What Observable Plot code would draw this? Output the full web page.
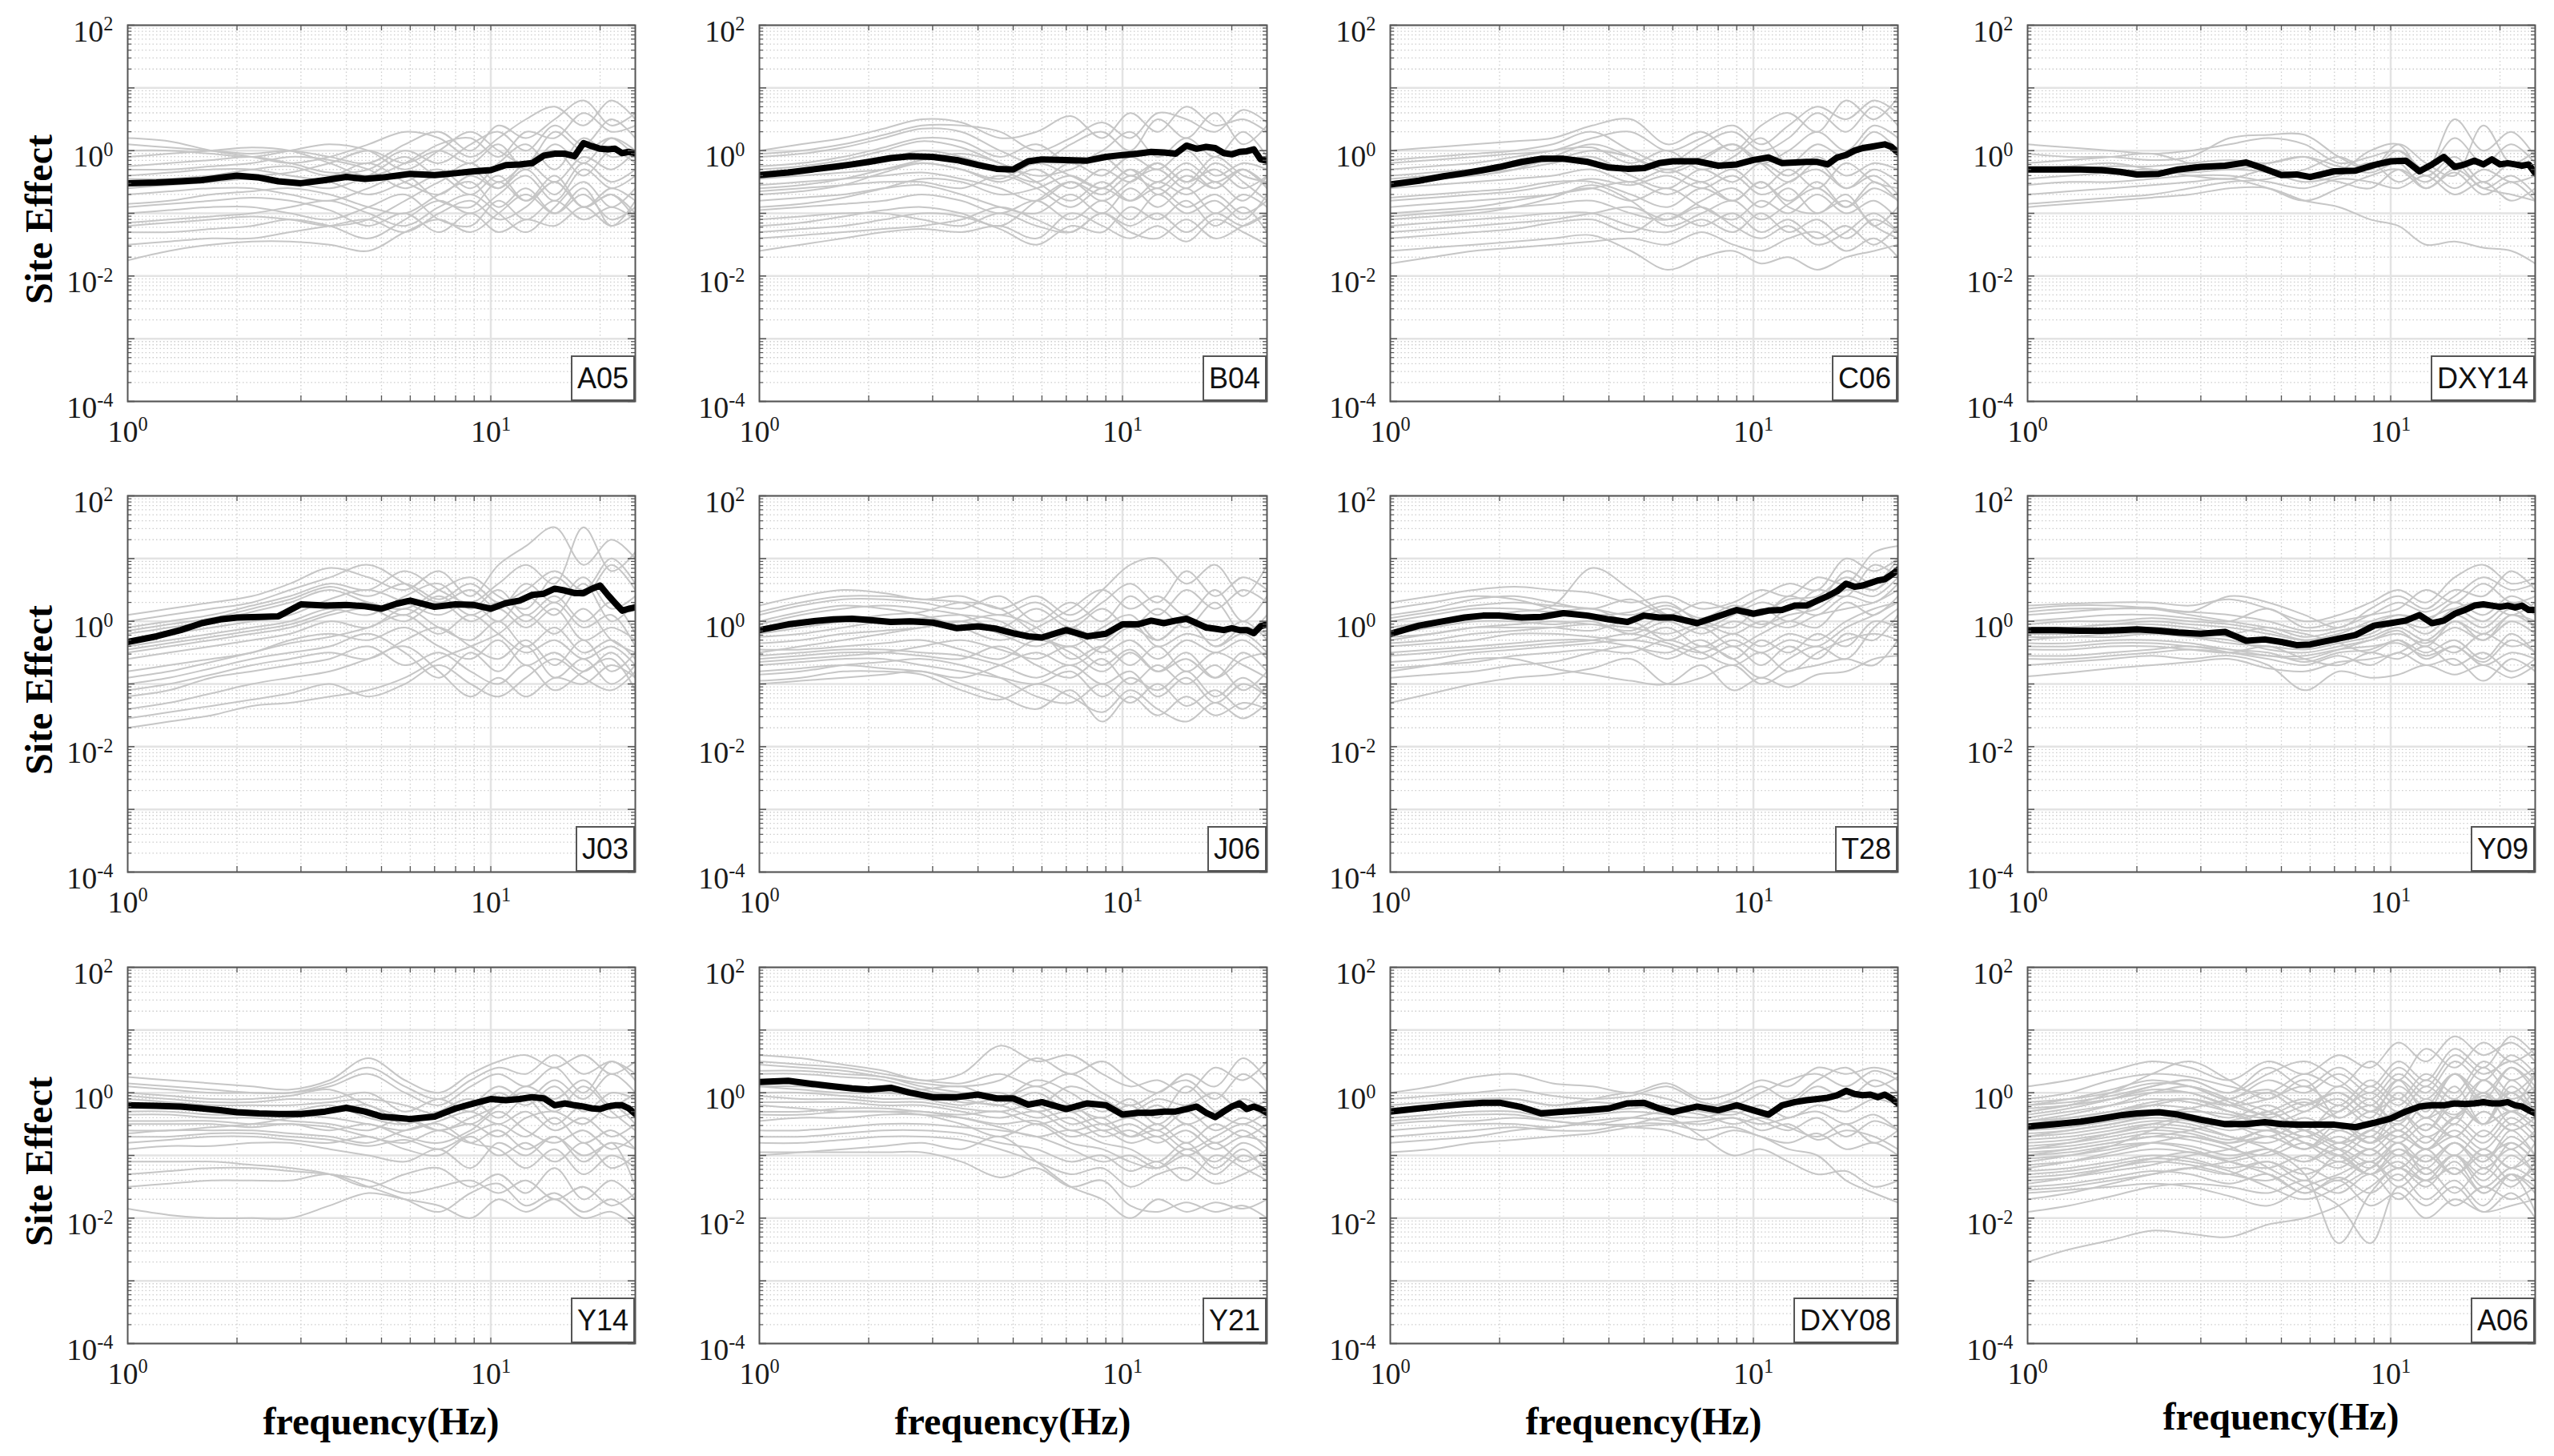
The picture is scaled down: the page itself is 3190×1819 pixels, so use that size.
<!DOCTYPE html>
<html><head><meta charset="utf-8">
<script src="https://cdn.jsdelivr.net/npm/d3@7"></script>
<script src="https://cdn.jsdelivr.net/npm/@observablehq/plot@0.6"></script>
<style>
html,body{margin:0;padding:0;background:#fff;}
#page{position:relative;width:3190px;height:1819px;overflow:hidden;background:#fff;}
.panel{position:absolute;}
.tag{position:absolute;box-sizing:border-box;height:57px;border:2px solid #555;background:#fff;font-family:"Liberation Sans",Arial,sans-serif;font-size:36px;line-height:53px;padding:0 6px;color:#111;}
.ylab{position:absolute;font-family:"Liberation Serif","Times New Roman",serif;font-weight:bold;font-size:48px;line-height:1;white-space:nowrap;transform:translate(-50%,-50%) rotate(-90deg);color:#000;}
.xlab{position:absolute;font-family:"Liberation Serif","Times New Roman",serif;font-weight:bold;font-size:48px;line-height:1;white-space:nowrap;transform:translate(-50%,-50%);color:#000;}
</style></head><body><div id="page"></div><script>
// ---------------- data (amplitudes stored as log10 values) ----------------
const freqGrid = [1,1.3,1.7,2.2,2.8,3.6,4.6,5.8,7.2,8.8,10.5,12.5,15,18,21.5,25];
const meanFreq = [1,1.2,1.4,1.6,1.8,2,2.3,2.6,3,3.5,4,4.5,5,5.5,6,7,8,9,10,11,12,13,14,15,16,17,18,19,20,21,22,23,24,25];
const stations = ["A05","B04","C06","DXY14","J03","J06","T28","Y09","Y14","Y21","DXY08","A06"];
const yTickLabels = [1e-4,1e-2,1,1e2];
const xTickLabels = [1,10];
const yLabel = "Site Effect";
const xLabel = "frequency(Hz)";

const A05_mean = [-0.52,-0.51,-0.49,-0.47,-0.43,-0.40,-0.43,-0.49,-0.52,-0.47,-0.42,-0.45,-0.43,-0.40,-0.37,-0.39,-0.36,-0.33,-0.31,-0.23,-0.22,-0.20,-0.08,-0.05,-0.05,-0.09,0.12,0.07,0.03,0.02,0.03,-0.04,-0.02,-0.04];
const A05_records = [
[0.2,0.15,0.0,-0.1,-0.2,-0.1,0.1,0.3,0.2,-0.1,0.2,0.5,0.7,0.4,0.8,0.5],
[-0.1,-0.05,0.0,0.05,0.0,-0.2,-0.4,-0.2,0.1,0.2,-0.1,0.3,0.2,0.6,0.3,0.4],
[-0.25,-0.2,-0.15,-0.1,-0.2,-0.35,-0.3,0.0,-0.2,0.1,0.3,0.0,0.4,0.1,0.5,0.2],
[-0.4,-0.35,-0.3,-0.3,-0.4,-0.5,-0.7,-0.5,-0.3,-0.6,-0.2,0.1,-0.3,0.2,-0.1,0.0],
[-0.55,-0.5,-0.4,-0.3,-0.25,-0.4,-0.2,-0.5,-0.7,-0.4,-0.6,-0.3,-0.7,-0.2,-0.5,-0.3],
[-0.7,-0.65,-0.6,-0.6,-0.7,-0.8,-0.6,-0.4,-0.8,-0.9,-0.5,-0.8,-0.4,-0.9,-0.6,-0.8],
[-0.85,-0.8,-0.7,-0.65,-0.6,-0.7,-0.9,-1.0,-0.7,-0.5,-0.9,-0.6,-1.0,-0.7,-1.1,-0.9],
[-1.0,-0.95,-0.9,-0.9,-1.0,-1.1,-0.9,-0.7,-1.1,-1.2,-0.8,-1.1,-0.8,-1.1,-0.9,-1.1],
[-1.15,-1.1,-1.05,-1.0,-0.9,-0.8,-1.0,-1.2,-0.9,-0.7,-1.0,-1.3,-0.9,-0.5,-0.9,-0.6],
[-1.3,-1.3,-1.25,-1.2,-1.1,-1.2,-1.4,-1.1,-0.8,-1.0,-0.7,-0.4,-0.8,-0.3,-0.6,-0.4],
[-1.5,-1.45,-1.4,-1.4,-1.3,-1.2,-1.1,-1.3,-1.0,-0.8,-1.1,-0.9,-0.5,-0.9,-0.7,-1.0],
[-1.75,-1.6,-1.5,-1.45,-1.45,-1.5,-1.6,-1.3,-1.1,-1.3,-1.0,-0.7,-1.0,-0.6,-1.2,-0.8],
[0.0,0.0,-0.05,-0.1,0.0,0.1,0.0,-0.3,0.0,0.3,0.0,-0.2,0.3,0.0,0.2,-0.1],
[-0.6,-0.55,-0.5,-0.45,-0.5,-0.6,-0.4,-0.1,-0.4,-0.2,-0.5,-0.2,0.0,-0.4,0.0,-0.2],
[0.1,0.05,0.0,-0.05,0.0,-0.1,-0.2,0.1,0.3,0.0,0.4,0.2,0.5,0.8,0.4,0.6],
[-0.3,-0.3,-0.25,-0.2,-0.1,-0.15,-0.3,-0.6,-0.4,-0.7,-0.4,-0.8,-0.5,-0.9,-0.7,-1.1],
[-0.9,-0.85,-0.8,-0.75,-0.8,-0.95,-1.2,-1.0,-1.3,-1.0,-1.3,-1.1,-1.2,-0.9,-1.2,-1.0],
[-1.2,-1.15,-1.1,-1.05,-1.1,-1.2,-1.1,-0.8,-0.5,-0.3,-0.6,-0.2,-0.5,-0.1,-0.3,0.0],
[-0.45,-0.45,-0.4,-0.4,-0.35,-0.2,0.0,-0.2,0.0,-0.2,0.1,-0.3,0.1,-0.2,0.2,0.0]];

const B04_mean = [-0.39,-0.35,-0.30,-0.26,-0.22,-0.18,-0.12,-0.09,-0.10,-0.15,-0.23,-0.29,-0.30,-0.17,-0.14,-0.15,-0.16,-0.10,-0.07,-0.05,-0.02,-0.03,-0.05,0.08,0.03,0.06,0.04,-0.04,-0.06,-0.02,-0.01,0.02,-0.14,-0.16];
const B04_records = [
[0.0,0.1,0.2,0.35,0.5,0.45,0.2,0.3,0.55,0.2,0.6,0.3,0.7,0.4,0.5,0.3],
[-0.1,-0.05,0.05,0.2,0.35,0.3,0.0,-0.2,0.1,0.3,0.0,0.5,0.2,0.6,0.1,0.4],
[-0.25,-0.2,-0.1,0.05,0.2,0.15,-0.1,0.1,-0.2,0.0,0.3,-0.1,0.2,-0.1,0.3,-0.1],
[-0.35,-0.3,-0.25,-0.15,0.0,-0.1,-0.3,-0.5,-0.2,-0.4,-0.1,-0.3,0.0,-0.4,-0.2,-0.3],
[-0.45,-0.4,-0.35,-0.3,-0.2,-0.3,-0.5,-0.3,-0.6,-0.3,-0.5,-0.2,-0.5,-0.1,-0.4,-0.5],
[-0.55,-0.5,-0.45,-0.4,-0.35,-0.45,-0.6,-0.8,-0.5,-0.7,-0.4,-0.6,-0.3,-0.6,-0.3,-0.6],
[-0.65,-0.6,-0.55,-0.5,-0.5,-0.6,-0.4,-0.6,-0.9,-0.6,-0.8,-0.5,-0.7,-0.5,-0.8,-0.4],
[-0.8,-0.75,-0.7,-0.6,-0.55,-0.7,-0.9,-1.0,-0.7,-1.0,-0.6,-0.9,-0.6,-1.0,-0.7,-0.9],
[-0.95,-0.9,-0.85,-0.8,-0.7,-0.8,-1.0,-0.8,-1.1,-0.8,-1.1,-0.7,-1.0,-0.8,-1.1,-0.7],
[-1.1,-1.05,-1.0,-1.0,-1.1,-1.2,-1.0,-1.2,-1.3,-1.0,-1.2,-1.0,-1.3,-1.0,-1.2,-1.0],
[-1.3,-1.25,-1.2,-1.1,-1.0,-1.05,-1.25,-1.5,-1.2,-1.3,-0.9,-1.1,-0.8,-1.2,-0.9,-1.3],
[-1.6,-1.5,-1.4,-1.3,-1.25,-1.3,-1.2,-1.4,-1.0,-1.2,-1.4,-1.2,-1.45,-1.1,-1.3,-1.5],
[-0.7,-0.65,-0.55,-0.35,-0.2,-0.3,-0.45,-0.2,-0.4,-0.6,-0.3,-0.7,-0.4,-0.6,-0.3,-0.55],
[-1.2,-1.15,-1.05,-0.95,-0.9,-1.0,-1.2,-0.8,-0.5,-0.8,-0.5,-0.3,-0.6,-0.2,-0.5,-0.8],
[-0.05,0.0,0.1,0.25,0.4,0.4,0.3,0.0,0.2,0.45,0.2,0.6,0.5,0.3,0.65,0.45],
[-0.3,-0.25,-0.15,0.0,0.15,0.05,-0.2,-0.4,-0.3,-0.1,-0.4,-0.2,-0.5,-0.3,-0.6,-0.4],
[-0.9,-0.85,-0.75,-0.6,-0.45,-0.5,-0.7,-0.6,-0.4,-0.6,-0.3,-0.5,-0.2,-0.5,-0.3,-0.6],
[-1.4,-1.35,-1.3,-1.25,-1.2,-1.1,-0.9,-1.1,-1.3,-1.0,-1.3,-1.4,-1.1,-1.4,-1.2,-1.0],
[-0.6,-0.55,-0.45,-0.3,-0.15,-0.05,-0.2,-0.5,-0.8,-0.5,-0.8,-0.6,-0.9,-0.7,-1.0,-0.8]];

const C06_mean = [-0.54,-0.48,-0.41,-0.36,-0.31,-0.26,-0.18,-0.13,-0.13,-0.18,-0.27,-0.29,-0.28,-0.20,-0.17,-0.17,-0.24,-0.22,-0.15,-0.11,-0.20,-0.19,-0.18,-0.18,-0.22,-0.11,-0.07,0.00,0.04,0.06,0.08,0.10,0.06,-0.03];
const C06_records = [
[0.0,0.05,0.1,0.15,0.2,0.4,0.5,0.1,0.3,0.0,0.4,0.6,0.3,0.8,0.5,0.85],
[-0.15,-0.1,-0.05,0.0,0.1,0.3,0.0,-0.2,0.1,0.3,0.0,0.2,0.6,0.3,0.7,0.4],
[-0.3,-0.25,-0.2,-0.1,0.0,0.05,-0.2,0.0,-0.3,-0.1,0.2,-0.2,0.1,-0.1,0.3,0.0],
[-0.45,-0.4,-0.35,-0.3,-0.2,-0.1,-0.4,-0.6,-0.3,-0.5,-0.2,-0.4,-0.1,-0.4,-0.2,-0.3],
[-0.6,-0.55,-0.5,-0.45,-0.4,-0.3,-0.5,-0.3,-0.5,-0.3,-0.6,-0.3,-0.6,-0.2,-0.5,-0.6],
[-0.75,-0.7,-0.65,-0.6,-0.5,-0.5,-0.7,-0.9,-0.6,-0.8,-0.5,-0.8,-0.5,-0.9,-0.6,-0.8],
[-0.9,-0.85,-0.8,-0.75,-0.7,-0.6,-0.8,-0.6,-0.9,-1.1,-0.8,-1.0,-0.7,-1.0,-0.8,-1.1],
[-1.05,-1.0,-0.95,-0.9,-0.85,-0.8,-1.0,-1.1,-0.8,-0.6,-0.9,-0.6,-1.0,-0.7,-1.2,-0.9],
[-1.2,-1.15,-1.1,-1.05,-1.0,-1.0,-1.2,-1.3,-1.1,-1.3,-1.0,-1.3,-1.1,-1.4,-1.1,-1.3],
[-1.4,-1.35,-1.3,-1.25,-1.15,-1.1,-1.3,-1.0,-1.2,-1.0,-1.3,-1.1,-1.4,-1.2,-1.5,-1.2],
[-1.6,-1.55,-1.5,-1.45,-1.4,-1.35,-1.6,-1.9,-1.7,-1.6,-1.8,-1.7,-1.9,-1.7,-1.6,-1.5],
[-1.8,-1.7,-1.6,-1.55,-1.5,-1.45,-1.4,-1.5,-1.3,-1.5,-1.6,-1.4,-1.3,-1.6,-1.4,-1.7],
[-0.5,-0.45,-0.4,-0.3,-0.1,0.1,-0.1,-0.35,-0.15,0.1,-0.2,-0.5,-0.2,-0.6,-0.3,-0.5],
[-1.0,-0.95,-0.9,-0.8,-0.7,-0.6,-0.5,-0.7,-0.5,-0.8,-0.5,-0.9,-1.0,-0.8,-1.2,-1.4],
[-0.2,-0.15,-0.1,-0.05,0.0,0.2,0.3,0.0,0.2,0.4,0.1,0.4,0.7,0.5,0.8,0.6],
[-0.4,-0.35,-0.3,-0.25,-0.15,0.0,-0.1,-0.3,-0.1,0.1,-0.2,0.0,0.3,0.0,0.4,0.2],
[-0.8,-0.75,-0.7,-0.65,-0.55,-0.45,-0.55,-0.4,-0.6,-0.4,-0.7,-0.5,-0.3,-0.6,-0.4,-0.7],
[-1.3,-1.25,-1.2,-1.15,-1.1,-1.0,-0.9,-1.1,-0.9,-1.2,-1.4,-1.2,-1.5,-1.3,-1.0,-1.3],
[-1.1,-1.05,-1.0,-0.9,-0.75,-0.55,-0.8,-1.2,-1.0,-0.8,-1.1,-0.85,-0.6,-0.9,-0.5,-0.8]];

const DXY14_mean = [-0.30,-0.30,-0.30,-0.31,-0.34,-0.38,-0.37,-0.30,-0.26,-0.24,-0.19,-0.29,-0.39,-0.38,-0.42,-0.33,-0.32,-0.23,-0.17,-0.16,-0.33,-0.22,-0.10,-0.26,-0.22,-0.16,-0.22,-0.14,-0.22,-0.20,-0.22,-0.24,-0.22,-0.36];
const DXY14_records = [
[0.1,0.05,0.0,-0.05,0.0,0.1,0.2,0.1,-0.2,-0.1,0.0,-0.3,0.5,0.0,0.3,-0.1],
[-0.05,-0.1,-0.1,-0.15,-0.1,0.2,0.25,0.25,-0.1,-0.3,0.1,-0.2,-0.4,0.4,-0.2,0.0],
[-0.2,-0.15,-0.1,-0.05,-0.2,-0.3,-0.2,-0.1,-0.3,0.0,0.1,-0.4,-0.1,-0.5,-0.2,-0.3],
[-0.3,-0.25,-0.2,-0.3,-0.35,-0.3,-0.35,-0.5,-0.4,-0.2,-0.5,-0.3,-0.6,-0.3,-0.5,-0.4],
[-0.45,-0.4,-0.35,-0.3,-0.4,-0.45,-0.3,-0.4,-0.5,-0.6,-0.3,-0.5,-0.2,-0.6,-0.4,-0.7],
[-0.55,-0.5,-0.5,-0.45,-0.4,-0.4,-0.5,-0.6,-0.45,-0.5,-0.6,-0.4,-0.7,-0.5,-0.8,-0.6],
[-0.7,-0.65,-0.6,-0.55,-0.5,-0.45,-0.6,-0.8,-0.6,-0.4,-0.3,-0.6,-0.35,-0.7,-0.5,-0.8],
[-0.85,-0.8,-0.75,-0.7,-0.6,-0.5,-0.45,-0.3,-0.1,-0.3,0.0,-0.3,0.2,-0.2,0.1,-0.2],
[-0.9,-0.85,-0.8,-0.75,-0.7,-0.6,-0.6,-0.8,-0.9,-1.1,-1.2,-1.5,-1.45,-1.55,-1.6,-1.8],
[-0.3,-0.3,-0.25,-0.25,-0.2,-0.15,-0.2,-0.1,-0.25,-0.35,-0.2,-0.6,-0.3,-0.6,-0.7,-0.8]];

const J03_mean = [-0.33,-0.24,-0.14,-0.03,0.03,0.06,0.07,0.08,0.27,0.25,0.26,0.24,0.20,0.28,0.33,0.23,0.27,0.26,0.20,0.29,0.33,0.42,0.44,0.52,0.49,0.45,0.45,0.52,0.57,0.42,0.29,0.17,0.20,0.22];
const J03_records = [
[0.1,0.2,0.3,0.4,0.6,0.85,0.7,0.5,0.8,0.4,0.9,1.2,1.5,0.9,1.3,1.0],
[-0.1,0.0,0.1,0.25,0.4,0.6,0.5,0.8,0.5,0.3,0.6,0.9,0.6,1.5,0.8,1.1],
[-0.2,-0.1,0.0,0.15,0.3,0.5,0.3,0.2,0.5,0.7,0.4,0.2,0.7,0.4,0.9,0.5],
[-0.3,-0.2,-0.1,0.0,0.1,0.35,0.5,0.3,0.1,0.3,0.0,0.4,0.1,0.6,0.0,0.3],
[-0.4,-0.3,-0.2,-0.1,0.0,0.2,0.1,0.4,0.6,0.2,0.5,0.1,0.4,0.0,0.3,-0.2],
[-0.5,-0.4,-0.3,-0.2,-0.1,0.1,0.2,0.0,0.3,0.0,0.2,-0.1,0.2,-0.3,-0.1,-0.3],
[-0.6,-0.5,-0.4,-0.3,-0.2,0.0,-0.1,0.2,-0.1,-0.3,0.0,-0.4,-0.1,-0.5,-0.3,-0.6],
[-0.8,-0.7,-0.6,-0.5,-0.3,-0.2,-0.3,-0.1,-0.4,-0.6,-0.3,-0.7,-0.5,-0.8,-0.5,-0.9],
[-1.0,-0.9,-0.75,-0.6,-0.5,-0.4,-0.2,-0.5,-0.9,-0.5,-0.8,-0.4,-0.9,-0.6,-1.0,-0.7],
[-1.2,-1.1,-0.9,-0.8,-0.7,-0.6,-0.4,-0.7,-0.5,-0.8,-1.0,-0.7,-1.1,-0.8,-0.6,-1.1],
[-1.4,-1.3,-1.15,-1.0,-0.9,-0.8,-0.6,-0.4,-0.8,-1.2,-0.9,-1.2,-0.9,-1.0,-0.7,-0.9],
[-1.7,-1.6,-1.5,-1.35,-1.3,-1.2,-1.1,-0.9,-0.6,-0.4,-0.2,0.1,-0.2,0.2,-0.3,-0.5],
[-1.55,-1.45,-1.35,-1.25,-1.15,-1.0,-1.2,-1.0,-0.7,-1.0,-1.2,-0.9,-0.6,-0.9,-1.1,-0.8],
[0.0,0.1,0.2,0.3,0.5,0.7,0.9,0.6,0.3,0.5,0.2,0.6,0.3,0.7,0.2,0.4],
[-0.15,-0.05,0.05,0.2,0.35,0.55,0.4,0.6,0.35,0.6,0.3,0.5,0.8,0.5,1.0,0.6],
[-0.45,-0.35,-0.25,-0.15,-0.05,0.15,0.3,0.1,0.4,0.1,0.3,0.0,0.3,-0.1,0.1,-0.4],
[-0.9,-0.8,-0.65,-0.5,-0.35,-0.25,-0.1,0.1,-0.2,0.1,-0.2,-0.5,-0.3,-0.6,-0.4,-0.7],
[-1.1,-1.0,-0.85,-0.7,-0.6,-0.5,-0.6,-0.3,-0.1,-0.4,-0.6,-0.3,-0.7,-0.3,-0.8,-0.5]];

const J06_mean = [-0.14,-0.05,0.00,0.03,0.04,0.02,-0.01,0.00,-0.02,-0.11,-0.08,-0.12,-0.19,-0.24,-0.26,-0.14,-0.24,-0.20,-0.05,-0.05,0.01,-0.03,0.01,0.04,-0.03,-0.10,-0.12,-0.14,-0.11,-0.14,-0.14,-0.19,-0.08,-0.05];
const J06_records = [
[0.25,0.4,0.5,0.45,0.35,0.4,0.2,0.4,0.1,0.5,0.9,1.0,0.6,0.9,0.4,0.9],
[0.1,0.25,0.35,0.35,0.3,0.2,0.4,0.0,0.3,0.0,0.4,0.1,0.5,0.2,0.5,0.3],
[-0.05,0.1,0.2,0.25,0.2,0.1,-0.1,0.2,-0.1,0.2,-0.1,0.2,-0.1,0.3,-0.2,0.1],
[-0.2,-0.1,0.0,0.1,0.15,0.3,0.2,-0.2,-0.4,-0.1,0.1,-0.3,0.0,-0.4,-0.1,-0.2],
[-0.35,-0.3,-0.2,-0.15,-0.1,0.0,-0.2,-0.4,-0.2,-0.5,-0.3,-0.6,-0.3,-0.5,-0.3,-0.6],
[-0.45,-0.45,-0.4,-0.35,-0.3,-0.45,-0.6,-0.3,-0.5,-0.8,-0.5,-0.8,-0.5,-0.9,-0.6,-0.5],
[-0.6,-0.55,-0.5,-0.5,-0.55,-0.6,-0.4,-0.7,-0.9,-0.6,-1.0,-0.7,-1.0,-0.7,-1.1,-0.8],
[-0.7,-0.65,-0.6,-0.6,-0.7,-0.8,-0.9,-1.0,-0.8,-1.2,-0.9,-1.1,-0.8,-1.2,-0.9,-1.2],
[-0.85,-0.8,-0.7,-0.65,-0.6,-0.7,-0.9,-1.2,-1.3,-1.0,-1.3,-1.0,-1.35,-1.1,-1.4,-1.0],
[-1.0,-0.95,-0.9,-0.85,-0.8,-1.0,-1.2,-1.4,-1.1,-1.6,-1.2,-1.5,-1.2,-1.5,-1.3,-1.4],
[-0.95,-0.9,-0.8,-0.8,-0.85,-1.1,-1.25,-1.0,-1.2,-1.45,-1.1,-1.4,-1.6,-1.3,-1.55,-1.3],
[0.0,0.15,0.25,0.2,0.1,-0.1,-0.3,-0.1,0.2,0.5,0.2,0.4,0.1,0.5,0.0,0.4],
[-0.5,-0.4,-0.3,-0.2,-0.1,0.0,0.1,-0.1,-0.6,-0.4,-0.7,-0.4,-0.8,-0.5,-0.7,-0.9],
[-0.8,-0.75,-0.7,-0.75,-0.8,-0.9,-0.7,-0.5,-0.7,-0.4,-0.1,-0.3,0.0,-0.4,-0.2,-0.5],
[0.15,0.3,0.4,0.4,0.35,0.3,0.1,0.3,0.0,0.3,0.6,0.3,0.8,0.4,0.7,0.5],
[-0.25,-0.2,-0.1,0.0,0.05,0.1,0.0,-0.3,-0.1,-0.3,0.0,-0.4,-0.2,-0.3,0.0,-0.3],
[-0.55,-0.5,-0.45,-0.45,-0.5,-0.55,-0.7,-0.9,-0.7,-1.0,-0.8,-1.2,-0.9,-1.3,-1.0,-1.2],
[-0.65,-0.6,-0.55,-0.5,-0.4,-0.3,-0.45,-0.6,-0.4,-0.7,-0.45,-0.8,-0.6,-0.9,-0.5,-0.8]];

const T28_mean = [-0.20,-0.07,0.00,0.06,0.09,0.09,0.06,0.07,0.13,0.09,0.03,-0.01,0.09,0.06,0.06,-0.03,0.08,0.18,0.12,0.17,0.18,0.25,0.25,0.33,0.40,0.48,0.60,0.55,0.57,0.61,0.65,0.67,0.74,0.82];
const T28_records = [
[0.3,0.4,0.5,0.55,0.5,0.45,0.3,0.4,0.2,0.3,0.5,0.4,0.7,0.6,1.1,1.2],
[0.1,0.2,0.35,0.4,0.3,0.2,0.35,0.1,0.3,0.2,0.4,0.6,0.5,1.0,0.8,1.0],
[0.0,0.1,0.2,0.2,0.15,0.2,0.0,0.2,-0.1,0.1,0.3,0.2,0.5,0.4,0.9,0.7],
[-0.1,0.0,0.1,0.15,0.25,0.85,0.5,0.1,0.0,-0.1,0.2,0.0,0.3,0.6,0.5,0.8],
[-0.2,-0.1,0.0,0.0,-0.05,0.0,-0.2,0.0,-0.2,0.0,-0.1,0.2,0.1,0.4,0.3,0.6],
[-0.3,-0.2,-0.1,-0.1,-0.1,-0.15,0.0,-0.3,-0.1,-0.4,-0.2,0.0,-0.1,0.3,0.1,0.4],
[-0.4,-0.35,-0.3,-0.2,-0.2,-0.25,-0.3,-0.1,-0.4,-0.2,-0.4,-0.2,-0.3,0.0,0.2,0.3],
[-0.5,-0.45,-0.4,-0.35,-0.3,-0.3,-0.4,-0.5,-0.3,-0.6,-0.3,-0.5,-0.2,-0.4,0.0,-0.1],
[-0.65,-0.6,-0.5,-0.45,-0.4,-0.35,-0.3,-0.4,-0.6,-0.4,-0.7,-0.4,-0.6,-0.2,-0.3,0.1],
[-0.75,-0.7,-0.65,-0.55,-0.5,-0.45,-0.5,-0.3,-0.5,-0.7,-0.5,-0.8,-0.5,-0.3,-0.2,-0.3],
[-0.9,-0.85,-0.8,-0.7,-0.65,-0.5,-0.4,-0.6,-0.4,-0.6,-0.9,-0.6,-0.4,-0.6,-0.1,0.2],
[-1.3,-1.15,-1.0,-0.9,-0.85,-0.75,-0.6,-1.0,-0.9,-0.7,-1.0,-0.8,-0.7,-0.6,-0.7,-0.3],
[-0.8,-0.7,-0.6,-0.6,-0.75,-0.85,-0.95,-1.0,-0.7,-1.1,-0.9,-1.05,-0.85,-0.8,-0.6,-0.55],
[0.2,0.3,0.4,0.35,0.2,0.1,0.15,0.3,0.0,0.2,0.1,0.4,0.3,0.8,0.6,1.0],
[0.05,0.15,0.25,0.3,0.25,0.2,0.1,0.25,0.05,0.25,0.15,0.35,0.4,0.7,0.5,0.9],
[-0.35,-0.3,-0.2,-0.15,-0.1,-0.05,-0.15,0.1,-0.05,0.15,-0.05,0.1,0.2,0.5,0.4,0.7],
[-0.55,-0.5,-0.45,-0.4,-0.35,-0.3,-0.2,-0.35,-0.5,-0.3,-0.5,-0.3,-0.4,-0.1,0.1,0.3],
[-0.25,-0.2,-0.1,-0.05,0.0,-0.05,-0.1,-0.2,-0.05,-0.2,0.0,-0.1,0.1,0.2,0.3,0.5]];

const Y09_mean = [-0.14,-0.14,-0.15,-0.15,-0.14,-0.13,-0.15,-0.18,-0.20,-0.17,-0.31,-0.29,-0.33,-0.38,-0.37,-0.29,-0.22,-0.07,-0.03,0.01,0.10,-0.03,0.01,0.12,0.18,0.25,0.27,0.25,0.23,0.25,0.22,0.25,0.18,0.18];
const Y09_records = [
[0.25,0.28,0.3,0.3,0.25,0.35,0.2,0.0,0.1,0.3,0.5,0.3,0.7,0.9,0.6,0.7],
[0.1,0.15,0.2,0.22,0.15,0.4,0.3,0.1,-0.1,0.2,0.4,0.2,0.5,0.4,0.8,0.5],
[0.0,0.05,0.1,0.1,0.05,0.0,0.2,-0.1,0.0,0.1,0.2,0.5,0.3,0.6,0.3,0.4],
[-0.1,-0.1,-0.05,0.0,-0.05,-0.1,-0.2,-0.3,-0.2,0.0,0.1,0.0,0.3,0.1,0.4,0.2],
[-0.2,-0.2,-0.15,-0.1,-0.15,-0.25,-0.3,-0.4,-0.3,-0.2,0.0,-0.2,0.1,-0.1,0.2,-0.1],
[-0.3,-0.25,-0.25,-0.2,-0.25,-0.3,-0.45,-0.5,-0.4,-0.3,-0.2,-0.35,-0.1,-0.3,0.0,-0.2],
[-0.35,-0.35,-0.3,-0.3,-0.35,-0.45,-0.5,-0.65,-0.5,-0.45,-0.3,-0.5,-0.3,-0.6,-0.2,-0.5],
[-0.45,-0.45,-0.4,-0.4,-0.45,-0.5,-0.4,-0.6,-0.7,-0.5,-0.6,-0.4,-0.7,-0.5,-0.8,-0.6],
[-0.55,-0.55,-0.5,-0.45,-0.4,-0.5,-0.6,-0.7,-0.55,-0.7,-0.5,-0.7,-0.6,-0.95,-0.6,-0.8],
[-0.7,-0.65,-0.6,-0.55,-0.6,-0.55,-0.7,-1.1,-0.8,-0.9,-0.85,-0.7,-0.85,-0.7,-0.9,-0.7],
[-0.88,-0.82,-0.75,-0.7,-0.65,-0.6,-0.75,-0.8,-0.65,-0.6,-0.5,-0.3,-0.5,-0.2,-0.4,-0.3],
[-0.15,-0.1,-0.05,-0.05,-0.1,-0.2,-0.1,-0.25,-0.15,-0.05,0.1,0.05,0.2,0.0,0.3,0.1],
[0.2,0.25,0.25,0.2,0.1,0.0,-0.1,-0.2,-0.35,-0.5,-0.3,-0.6,-0.4,-0.7,-0.5,-0.6],
[-0.6,-0.6,-0.55,-0.5,-0.45,-0.5,-0.55,-0.6,-0.45,-0.3,-0.15,-0.4,0.0,-0.3,0.1,-0.1],
[0.15,0.2,0.2,0.2,0.15,0.1,0.0,-0.15,-0.1,0.1,0.3,0.15,0.4,0.7,0.5,0.6],
[-0.05,0.0,0.0,0.05,0.0,-0.05,-0.15,-0.3,-0.25,-0.1,0.0,-0.1,0.2,0.3,0.1,0.3],
[-0.25,-0.25,-0.2,-0.2,-0.25,-0.35,-0.4,-0.45,-0.35,-0.25,-0.1,-0.3,0.0,-0.2,0.1,0.0],
[-0.4,-0.4,-0.35,-0.35,-0.4,-0.45,-0.55,-0.55,-0.45,-0.4,-0.35,-0.55,-0.4,-0.65,-0.3,-0.5]];

const Y14_mean = [-0.20,-0.21,-0.22,-0.25,-0.28,-0.31,-0.33,-0.34,-0.34,-0.30,-0.24,-0.30,-0.38,-0.40,-0.42,-0.38,-0.25,-0.17,-0.10,-0.12,-0.10,-0.07,-0.09,-0.20,-0.17,-0.20,-0.22,-0.25,-0.26,-0.22,-0.20,-0.20,-0.25,-0.34];
const Y14_records = [
[0.25,0.2,0.15,0.1,0.05,0.2,0.55,0.2,0.0,0.3,0.5,0.6,0.4,0.6,0.3,0.5],
[0.1,0.05,0.0,0.0,0.0,0.1,0.3,0.0,-0.2,0.1,0.3,0.1,0.4,0.0,0.5,0.2],
[-0.05,-0.1,-0.15,-0.15,-0.1,-0.1,0.0,-0.3,-0.1,-0.3,0.0,-0.2,0.1,-0.3,0.0,-0.1],
[-0.2,-0.2,-0.25,-0.3,-0.3,-0.2,-0.4,-0.5,-0.3,-0.1,-0.4,-0.1,-0.5,-0.2,-0.4,-0.3],
[-0.35,-0.35,-0.4,-0.4,-0.45,-0.5,-0.6,-0.4,-0.6,-0.5,-0.7,-0.4,-0.3,-0.5,-0.2,-0.5],
[-0.5,-0.5,-0.5,-0.55,-0.5,-0.6,-0.5,-0.7,-0.8,-0.6,-0.3,-0.6,-0.8,-0.6,-0.9,-0.7],
[-0.65,-0.6,-0.6,-0.6,-0.65,-0.7,-0.8,-0.6,-0.5,-0.8,-0.9,-1.2,-0.9,-1.3,-1.0,-1.2],
[-0.8,-0.75,-0.7,-0.7,-0.75,-0.8,-0.7,-0.9,-1.0,-0.7,-1.0,-0.8,-1.1,-0.8,-1.2,-1.0],
[-0.9,-0.85,-0.85,-0.8,-0.8,-0.9,-1.0,-1.1,-0.9,-1.2,-0.8,-1.0,-0.7,-1.1,-0.8,-1.5],
[-1.3,-1.25,-1.2,-1.2,-1.25,-1.3,-1.4,-1.6,-1.5,-1.4,-1.6,-1.4,-1.7,-1.5,-1.8,-1.6],
[-1.5,-1.45,-1.4,-1.4,-1.4,-1.3,-1.5,-1.7,-1.9,-1.6,-1.45,-1.8,-1.6,-1.9,-1.7,-2.0],
[-1.85,-1.95,-2.0,-2.0,-2.0,-1.8,-1.6,-1.7,-1.8,-2.0,-1.7,-1.9,-1.7,-2.0,-1.9,-2.15],
[0.0,-0.05,-0.1,-0.1,-0.05,0.05,-0.2,-0.4,-0.6,-0.4,-0.2,0.1,-0.1,0.2,-0.2,0.0],
[-0.6,-0.6,-0.55,-0.5,-0.4,-0.3,-0.2,-0.5,-0.3,-0.5,-0.2,0.0,-0.3,0.1,-0.3,-0.6],
[0.15,0.1,0.05,0.0,0.0,0.15,0.4,0.1,-0.1,0.2,0.4,0.3,0.6,0.3,0.5,0.3],
[-0.1,-0.15,-0.2,-0.2,-0.2,-0.15,-0.1,-0.2,-0.35,-0.2,0.1,-0.1,0.2,-0.1,0.3,0.0],
[-0.3,-0.3,-0.35,-0.35,-0.35,-0.4,-0.5,-0.6,-0.45,-0.3,-0.5,-0.3,-0.6,-0.4,-0.7,-0.5],
[-0.45,-0.45,-0.45,-0.5,-0.5,-0.55,-0.7,-0.8,-0.6,-0.8,-0.6,-0.9,-0.7,-1.0,-0.8,-0.9],
[-0.7,-0.7,-0.65,-0.65,-0.7,-0.75,-0.85,-0.75,-0.9,-0.65,-0.5,-0.7,-0.4,-0.8,-0.6,-0.9],
[-1.1,-1.1,-1.1,-1.15,-1.2,-1.3,-1.5,-1.3,-1.2,-1.5,-1.3,-1.6,-1.2,-1.7,-1.4,-1.7]];

const Y21_mean = [0.17,0.19,0.14,0.10,0.07,0.05,0.08,0.00,-0.07,-0.07,-0.03,-0.09,-0.09,-0.19,-0.15,-0.26,-0.17,-0.20,-0.35,-0.32,-0.32,-0.30,-0.30,-0.26,-0.22,-0.32,-0.39,-0.30,-0.22,-0.17,-0.26,-0.22,-0.26,-0.32];
const Y21_records = [
[0.6,0.55,0.45,0.35,0.2,0.3,0.75,0.5,0.6,0.3,0.1,0.2,0.0,0.4,0.2,0.5],
[0.45,0.4,0.35,0.25,0.15,0.1,0.2,0.55,0.3,0.5,0.2,0.0,0.3,0.1,0.55,0.2],
[0.3,0.3,0.25,0.2,0.05,-0.05,0.0,-0.2,0.1,-0.1,-0.3,-0.1,-0.2,0.0,-0.3,-0.1],
[0.2,0.15,0.1,0.05,0.0,-0.1,-0.2,0.0,-0.3,-0.2,-0.4,-0.2,-0.5,-0.3,-0.2,-0.4],
[0.0,0.0,-0.05,-0.1,-0.1,-0.2,-0.1,-0.3,-0.2,-0.5,-0.4,-0.6,-0.3,-0.6,-0.4,-0.6],
[-0.15,-0.15,-0.15,-0.2,-0.2,-0.3,-0.4,-0.3,-0.6,-0.5,-0.7,-0.5,-0.8,-0.5,-0.7,-0.5],
[-0.3,-0.3,-0.25,-0.25,-0.3,-0.35,-0.3,-0.5,-0.4,-0.7,-0.6,-0.8,-0.6,-0.9,-0.7,-0.8],
[-0.45,-0.4,-0.4,-0.35,-0.35,-0.4,-0.5,-0.45,-0.7,-0.6,-0.8,-0.7,-1.0,-0.8,-1.1,-0.9],
[-0.6,-0.6,-0.55,-0.5,-0.5,-0.55,-0.6,-0.7,-0.9,-1.1,-1.0,-1.2,-1.0,-1.3,-1.0,-1.2],
[-0.8,-0.8,-0.75,-0.7,-0.7,-0.75,-0.9,-1.1,-1.3,-1.2,-1.5,-1.3,-1.2,-1.45,-1.3,-1.1],
[-0.95,-0.95,-0.95,-0.95,-0.95,-1.1,-1.35,-1.2,-1.5,-1.4,-1.8,-1.9,-1.75,-1.9,-1.8,-2.0],
[-1.0,-0.95,-0.9,-0.85,-0.8,-0.9,-0.7,-1.1,-1.5,-1.7,-2.0,-1.7,-1.9,-1.75,-1.85,-1.7],
[0.1,0.05,0.0,0.0,0.05,0.1,-0.1,0.2,0.0,-0.3,-0.1,-0.4,0.1,-0.3,-0.5,-0.3],
[-0.2,-0.25,-0.3,-0.3,-0.35,-0.5,-0.7,-0.5,-0.8,-0.9,-1.1,-1.2,-0.9,-1.1,-0.8,-1.0],
[0.5,0.45,0.4,0.3,0.2,0.15,0.3,0.1,0.3,0.0,-0.2,0.0,0.2,-0.1,0.3,0.0],
[0.35,0.35,0.3,0.25,0.1,0.0,-0.1,0.1,-0.2,-0.4,-0.2,-0.5,-0.2,-0.4,-0.1,-0.3],
[0.1,0.1,0.05,0.0,-0.05,-0.15,-0.2,-0.4,-0.3,-0.6,-0.5,-0.7,-0.5,-0.8,-0.6,-0.9],
[-0.05,-0.1,-0.1,-0.15,-0.15,-0.25,-0.3,-0.2,-0.5,-0.4,-0.7,-0.6,-0.9,-0.7,-0.5,-0.7],
[-0.35,-0.35,-0.3,-0.3,-0.3,-0.4,-0.55,-0.7,-0.6,-0.8,-0.9,-1.1,-0.8,-1.2,-0.9,-1.3],
[-0.7,-0.7,-0.65,-0.6,-0.6,-0.65,-0.8,-0.9,-1.1,-1.0,-1.25,-1.1,-1.4,-1.0,-1.2,-1.4]];

const DXY08_mean = [-0.30,-0.25,-0.21,-0.18,-0.16,-0.16,-0.23,-0.33,-0.30,-0.28,-0.25,-0.17,-0.16,-0.25,-0.31,-0.22,-0.28,-0.20,-0.28,-0.35,-0.20,-0.15,-0.12,-0.10,-0.08,-0.04,0.03,-0.02,-0.04,-0.03,-0.07,-0.03,-0.09,-0.17];
const DXY08_records = [
[0.0,0.1,0.25,0.3,0.15,0.1,0.0,0.15,-0.1,0.0,0.2,0.1,0.4,0.3,0.4,0.3],
[-0.1,-0.05,0.0,0.05,-0.05,-0.1,-0.05,0.1,-0.15,-0.2,0.0,0.2,0.3,0.1,0.35,0.2],
[-0.2,-0.15,-0.1,-0.1,-0.2,-0.15,-0.2,-0.3,-0.25,-0.15,-0.3,-0.2,0.1,-0.1,0.2,0.0],
[-0.3,-0.25,-0.2,-0.2,-0.3,-0.3,-0.25,-0.2,-0.3,-0.35,-0.2,-0.4,-0.2,-0.3,-0.1,-0.2],
[-0.4,-0.35,-0.3,-0.3,-0.4,-0.35,-0.3,-0.35,-0.4,-0.3,-0.45,-0.6,-0.4,-0.7,-0.45,-0.6],
[-0.5,-0.45,-0.45,-0.4,-0.45,-0.5,-0.4,-0.3,-0.35,-0.5,-0.4,-0.55,-0.7,-0.5,-0.8,-0.6],
[-0.6,-0.55,-0.5,-0.5,-0.55,-0.45,-0.4,-0.45,-0.5,-0.4,-0.6,-0.5,-0.75,-0.6,-0.7,-0.9],
[-0.7,-0.65,-0.6,-0.55,-0.6,-0.6,-0.5,-0.5,-0.6,-0.55,-0.7,-0.8,-0.65,-0.9,-0.8,-1.0],
[-0.95,-0.9,-0.8,-0.75,-0.7,-0.65,-0.55,-0.5,-0.45,-0.4,-0.5,-0.4,-0.3,-0.5,-0.35,-0.6],
[-0.45,-0.4,-0.35,-0.35,-0.45,-0.5,-0.5,-0.4,-0.7,-1.0,-0.9,-1.1,-1.3,-1.25,-1.5,-1.4],
[-0.8,-0.75,-0.7,-0.6,-0.55,-0.5,-0.55,-0.6,-0.75,-0.6,-0.7,-0.9,-1.0,-1.4,-1.6,-1.75],
[-0.25,-0.2,-0.15,-0.1,-0.2,-0.1,0.0,-0.1,-0.25,-0.1,0.1,-0.1,0.2,0.4,0.1,0.25]];

const A06_mean = [-0.54,-0.50,-0.46,-0.41,-0.36,-0.33,-0.31,-0.35,-0.43,-0.50,-0.50,-0.47,-0.50,-0.51,-0.51,-0.51,-0.55,-0.48,-0.41,-0.30,-0.22,-0.20,-0.20,-0.17,-0.18,-0.17,-0.15,-0.17,-0.17,-0.15,-0.20,-0.22,-0.28,-0.33];
const A06_records = [
[0.1,0.2,0.35,0.5,0.4,0.2,0.5,0.3,0.6,0.4,0.8,0.5,0.9,0.6,0.8,0.5],
[-0.1,0.0,0.2,0.3,0.25,0.1,0.0,0.3,0.1,0.5,0.2,0.7,0.4,0.8,0.5,0.7],
[-0.2,-0.1,0.05,0.2,0.1,-0.1,0.2,0.0,0.3,0.0,0.4,0.1,0.6,0.3,0.5,0.2],
[-0.3,-0.2,-0.1,0.0,0.0,-0.2,-0.1,0.1,-0.2,0.2,-0.1,0.3,0.0,0.5,0.2,0.4],
[-0.4,-0.3,-0.2,-0.1,-0.15,-0.3,-0.4,-0.2,0.0,-0.3,0.1,-0.2,0.3,0.0,0.4,0.0],
[-0.5,-0.4,-0.3,-0.2,-0.25,-0.4,-0.2,-0.5,-0.3,0.0,-0.3,0.1,-0.2,0.2,-0.1,0.1],
[-0.55,-0.5,-0.4,-0.3,-0.35,-0.5,-0.6,-0.4,-0.6,-0.3,-0.5,-0.1,-0.4,0.0,-0.3,-0.1],
[-0.65,-0.6,-0.5,-0.4,-0.45,-0.6,-0.5,-0.7,-0.5,-0.7,-0.3,-0.6,-0.2,-0.5,0.1,-0.3],
[-0.75,-0.7,-0.6,-0.5,-0.55,-0.7,-0.8,-0.6,-0.8,-0.5,-0.7,-0.4,-0.7,-0.3,-0.6,-0.4],
[-0.85,-0.8,-0.7,-0.6,-0.65,-0.8,-0.7,-0.9,-0.7,-0.9,-0.6,-0.9,-0.5,-0.8,-0.4,-0.7],
[-0.95,-0.9,-0.8,-0.7,-0.75,-0.9,-1.0,-0.8,-1.0,-0.7,-1.0,-0.7,-1.0,-0.6,-0.9,-0.6],
[-1.05,-1.0,-0.9,-0.8,-0.85,-1.0,-0.9,-1.1,-0.9,-1.1,-0.8,-1.1,-0.8,-1.1,-0.7,-1.0],
[-1.15,-1.1,-1.0,-0.9,-0.95,-1.1,-1.2,-1.0,-1.2,-0.9,-1.2,-0.9,-1.3,-0.9,-1.2,-0.8],
[-1.25,-1.2,-1.1,-1.0,-1.05,-1.2,-1.1,-1.3,-1.1,-1.3,-1.0,-1.3,-1.0,-1.4,-1.0,-1.3],
[-1.35,-1.3,-1.2,-1.1,-1.15,-1.3,-1.4,-1.2,-1.4,-1.1,-1.5,-1.2,-1.6,-1.2,-1.5,-1.1],
[-1.5,-1.45,-1.35,-1.25,-1.3,-1.45,-1.3,-1.6,-1.35,-1.6,-1.3,-1.7,-1.4,-1.8,-1.3,-1.6],
[-1.6,-1.55,-1.5,-1.45,-1.5,-1.65,-1.8,-1.5,-1.3,-1.1,-1.4,-1.0,-1.3,-0.9,-1.2,-1.0],
[-2.7,-2.5,-2.35,-2.2,-2.25,-2.3,-2.1,-2.0,-1.8,-1.5,-1.2,-1.4,-1.0,-1.3,-0.8,-1.1],
[-0.3,-0.2,0.0,0.3,0.5,0.2,-0.1,0.2,-0.4,-0.1,-0.6,-0.2,-0.5,0.2,-0.2,0.3],
[-0.45,-0.35,-0.2,0.0,0.1,-0.1,-0.3,-0.6,-0.9,-1.2,-0.8,-1.3,-1.0,-1.5,-1.2,-1.4],
[-0.7,-0.65,-0.55,-0.45,-0.5,-0.7,-0.9,-1.3,-2.4,-1.6,-1.2,-1.5,-1.1,-1.6,-1.3,-1.9],
[-0.9,-0.85,-0.75,-0.65,-0.7,-0.85,-1.2,-1.5,-1.8,-2.4,-1.5,-1.8,-1.5,-1.9,-1.6,-2.0],
[-1.1,-1.0,-0.85,-0.6,-0.4,-0.5,-0.7,-0.5,-0.8,-0.6,-0.3,-0.7,-0.4,0.0,-0.5,-0.2],
[-0.2,-0.15,-0.05,0.1,0.2,0.0,0.3,0.5,0.2,-0.1,0.3,0.0,0.5,0.2,0.6,0.3],
[-1.4,-1.35,-1.25,-1.15,-1.0,-0.9,-0.7,-0.9,-0.6,-0.8,-0.5,-0.8,-0.4,-0.7,-0.3,-0.5],
[-0.6,-0.55,-0.45,-0.35,-0.3,-0.35,-0.5,-0.3,-0.1,-0.4,0.2,-0.1,0.3,-0.2,0.0,-0.3],
[-1.0,-0.95,-0.85,-0.8,-0.9,-1.1,-1.3,-1.6,-1.4,-1.8,-1.6,-2.0,-1.7,-1.9,-1.8,-1.7],
[-0.8,-0.75,-0.65,-0.55,-0.6,-0.75,-0.6,-0.8,-1.1,-0.9,-1.2,-0.9,-1.3,-1.0,-1.4,-1.2],
[-0.35,-0.25,-0.1,0.1,0.2,0.0,0.4,0.1,0.4,0.1,0.5,0.2,0.7,0.4,0.9,0.6],
[-0.6,-0.5,-0.35,-0.2,-0.1,-0.2,0.0,-0.3,0.1,-0.2,0.2,-0.3,0.3,-0.1,0.4,0.1],
[-0.9,-0.8,-0.65,-0.5,-0.4,-0.55,-0.3,-0.6,-0.2,-0.5,0.0,-0.4,0.1,-0.5,0.2,-0.2],
[-1.2,-1.1,-0.95,-0.8,-0.7,-0.8,-0.6,-0.9,-0.5,-0.8,-0.3,-0.6,-0.1,-0.5,0.0,-0.4],
[-1.45,-1.35,-1.2,-1.05,-0.95,-1.05,-0.9,-1.1,-0.8,-1.0,-0.7,-0.9,-0.6,-0.9,-0.5,-0.8],
[-1.7,-1.6,-1.45,-1.3,-1.2,-1.3,-1.1,-1.4,-1.0,-1.3,-0.9,-1.2,-0.8,-1.1,-0.6,-1.0],
[-0.15,-0.1,0.0,0.15,0.1,-0.15,-0.4,-0.7,-0.5,-0.8,-0.6,-0.9,-0.7,-1.0,-0.8,-1.1],
[-0.45,-0.4,-0.3,-0.15,-0.1,-0.3,-0.55,-0.8,-1.0,-1.3,-1.1,-1.4,-1.2,-1.6,-1.3,-1.5],
[-1.0,-0.9,-0.8,-0.7,-0.6,-0.45,-0.3,-0.1,-0.3,0.1,-0.2,0.2,-0.1,0.4,0.0,0.3],
[-1.3,-1.25,-1.15,-1.05,-1.1,-1.25,-1.5,-1.7,-1.5,-1.2,-0.9,-1.1,-0.8,-1.2,-0.9,-1.3],
[-0.25,-0.2,-0.1,0.05,0.0,-0.2,-0.35,-0.15,-0.4,-0.2,-0.45,-0.15,-0.35,-0.05,-0.3,0.05],
[-0.7,-0.6,-0.5,-0.35,-0.25,-0.1,0.05,-0.2,0.0,-0.3,-0.1,-0.4,-0.2,-0.5,-0.3,-0.6],
[-1.55,-1.5,-1.4,-1.3,-1.2,-1.1,-0.95,-0.7,-0.9,-0.6,-0.8,-0.5,-0.7,-0.3,-0.6,-0.4],
[-1.9,-1.8,-1.65,-1.5,-1.45,-1.5,-1.6,-1.4,-1.6,-1.3,-1.7,-1.4,-1.8,-1.5,-1.7,-1.5]];

const panelMeans = [A05_mean,B04_mean,C06_mean,DXY14_mean,J03_mean,J06_mean,T28_mean,Y09_mean,Y14_mean,Y21_mean,DXY08_mean,A06_mean];
const panelRecords = [A05_records,B04_records,C06_records,DXY14_records,J03_records,J06_records,T28_records,Y09_records,Y14_records,Y21_records,DXY08_records,A06_records];

// ---------------- layout ----------------
const colLeft = [159, 948, 1736, 2532];
const rowTop = [31, 619, 1208];
const PW = 634, PH = 470;
const ML = 120, MR = 14, MT = 24, MB = 84;

const yMajor = [1e-4,1e-3,1e-2,1e-1,1,10,100];
const yMinor = [];
for (let k = -4; k < 2; k++) for (let m = 2; m <= 9; m++) yMinor.push(m * Math.pow(10, k));
const xMinor = [2,3,4,5,6,7,8,9,20];
const xMajor = [10];

const page = document.getElementById("page");
const NS = "http://www.w3.org/2000/svg";
const ink = "#555";

function superscript(svg, label) {
  const nodes = svg.querySelectorAll(`g[aria-description="${label}"] text`);
  nodes.forEach(t => {
    const e = t.textContent; t.textContent = "";
    const b = document.createElementNS(NS, "tspan"); b.textContent = "10"; t.appendChild(b);
    const s = document.createElementNS(NS, "tspan"); s.textContent = e;
    s.setAttribute("dy", "-0.55em"); s.setAttribute("font-size", "0.64em"); t.appendChild(s);
  });
}

stations.forEach((name, i) => {
  const r = Math.floor(i / 4), c = i % 4;
  const recData = panelRecords[i].flatMap((rec, k) => rec.map((v, j) => ({f: freqGrid[j], a: Math.pow(10, v), id: k})));
  const meanData = panelMeans[i].map((v, j) => ({f: meanFreq[j], a: Math.pow(10, v)}));
  const chart = Plot.plot({
    width: PW + ML + MR, height: PH + MT + MB,
    marginLeft: ML, marginRight: MR, marginTop: MT, marginBottom: MB,
    x: {type: "log", domain: [1, 25], axis: null},
    y: {type: "log", domain: [1e-4, 1e2], axis: null},
    style: {fontFamily: "'Liberation Serif','Times New Roman',serif", fontSize: "38px", background: "transparent", overflow: "visible", color: "#111"},
    marks: [
      Plot.ruleY(yMinor, {stroke: "#cdcdcd", strokeWidth: 1.3, strokeDasharray: "1.5,3"}),
      Plot.ruleX(xMinor, {stroke: "#cdcdcd", strokeWidth: 1.3, strokeDasharray: "1.5,3"}),
      Plot.ruleY(yMajor, {stroke: "#e3e3e3", strokeWidth: 2.5}),
      Plot.ruleX(xMajor, {stroke: "#e3e3e3", strokeWidth: 2.5}),
      Plot.line(recData, {x: "f", y: "a", z: "id", stroke: "#c6c6c6", strokeWidth: 2, curve: "catmull-rom", clip: true}),
      Plot.line(meanData, {x: "f", y: "a", stroke: "#000", strokeWidth: 8, strokeLinejoin: "round", clip: true}),
      Plot.frame({stroke: ink, strokeWidth: 2}),
      Plot.tickY(yMajor, {y: d => d, insetRight: PW - 9, stroke: ink, strokeWidth: 1.5}),
      Plot.tickY(yMajor, {y: d => d, insetLeft: PW - 9, stroke: ink, strokeWidth: 1.5}),
      Plot.tickY(yMinor, {y: d => d, insetRight: PW - 5, stroke: ink, strokeWidth: 1.2}),
      Plot.tickY(yMinor, {y: d => d, insetLeft: PW - 5, stroke: ink, strokeWidth: 1.2}),
      Plot.tickX(xMinor.concat(xMajor), {x: d => d, insetTop: PH - 7, stroke: ink, strokeWidth: 1.3}),
      Plot.tickX(xMinor.concat(xMajor), {x: d => d, insetBottom: PH - 7, stroke: ink, strokeWidth: 1.3}),
      Plot.text(yTickLabels, {y: d => d, frameAnchor: "left", textAnchor: "end", dx: -18, dy: 8, fontSize: 38, text: d => String(Math.round(Math.log10(d))), ariaDescription: "ytick", fill: "#1a1a1a"}),
      Plot.text(xTickLabels, {x: d => d, frameAnchor: "bottom", dy: 50, fontSize: 38, text: d => String(Math.round(Math.log10(d))), ariaDescription: "xtick", fill: "#1a1a1a"})
    ]
  });
  superscript(chart, "ytick");
  superscript(chart, "xtick");
  const holder = document.createElement("div");
  holder.className = "panel";
  holder.style.left = (colLeft[c] - ML) + "px";
  holder.style.top = (rowTop[r] - MT) + "px";
  holder.appendChild(chart);
  page.appendChild(holder);

  const tag = document.createElement("div");
  tag.className = "tag";
  tag.textContent = name;
  tag.style.right = (3190 - (colLeft[c] + PW)) + "px";
  tag.style.top = (rowTop[r] + PH - 57) + "px";
  page.appendChild(tag);

  if (c === 0) {
    const yl = document.createElement("div");
    yl.className = "ylab"; yl.textContent = yLabel;
    yl.style.left = "49px"; yl.style.top = (rowTop[r] + PH / 2 + 8) + "px";
    page.appendChild(yl);
  }
  if (r === 2) {
    const xl = document.createElement("div");
    xl.className = "xlab"; xl.textContent = xLabel;
    xl.style.left = (colLeft[c] + PW / 2) + "px"; xl.style.top = (c === 3 ? 1770 : 1776) + "px";
    page.appendChild(xl);
  }
});
</script></body></html>
